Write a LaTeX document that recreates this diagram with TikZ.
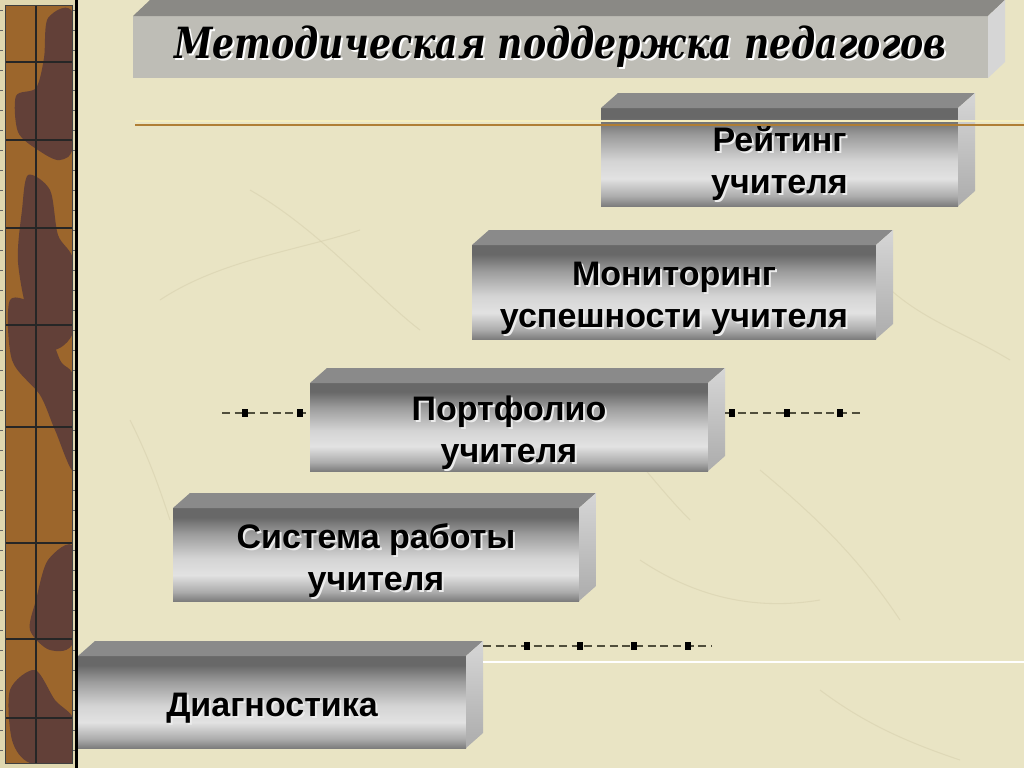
\documentclass[tikz,border=0pt]{standalone}
\usepackage{fontspec}
\setmainfont{Liberation Sans}
\newfontfamily\titlefont{DejaVu Serif}
\usetikzlibrary{calc}
\definecolor{parchment}{RGB}{233,228,196}
\definecolor{scratchCol}{RGB}{210,203,168}
\definecolor{stripBrown}{RGB}{156,102,44}
\definecolor{stripDark}{RGB}{98,64,56}
\definecolor{frameLight}{RGB}{224,216,176}
\definecolor{goldLine}{RGB}{176,126,52}
\definecolor{goldLight}{RGB}{246,238,190}
\definecolor{dashGray}{RGB}{80,78,60}
\definecolor{faceTop}{RGB}{138,138,138}
\definecolor{sideLight}{RGB}{214,214,214}
\definecolor{sideDark}{RGB}{172,172,172}
\definecolor{titleFace}{RGB}{190,189,182}
\definecolor{titleTop}{RGB}{138,137,133}
\definecolor{mA}{RGB}{125,125,125}
\definecolor{mB}{RGB}{172,172,172}
\definecolor{mC}{RGB}{226,226,226}
\definecolor{mD}{RGB}{212,212,212}
\definecolor{mE}{RGB}{156,156,156}
\definecolor{mF}{RGB}{104,104,104}
\pgfdeclareverticalshading{metal}{100bp}{color(0bp)=(mA); color(25bp)=(mA); color(30bp)=(mB); color(39bp)=(mC); color(48bp)=(mD); color(61bp)=(mE); color(70bp)=(mF); color(75bp)=(mF); color(100bp)=(mF)}

\begin{document}
\begin{tikzpicture}[x=0.75pt,y=-0.75pt,
  barface/.style={shading=metal,inner sep=0pt,outer sep=0pt},
  bartop/.style={fill=faceTop},
  barside/.style={top color=sideLight,bottom color=sideDark},
  bartxt/.style={font=\bfseries\fontsize{25.5}{31.5}\selectfont,align=center,text=black},
  bartxtsh/.style={bartxt,text=white!85!gray},
  titletxt/.style={font=\titlefont\bfseries\itshape\fontsize{31}{36}\selectfont,text=black},
  dotline/.style={dashGray,line width=1.4pt,dash pattern=on 6pt off 3.5pt},
  knot/.style={fill=black,minimum width=4.5pt,minimum height=6pt,inner sep=0pt},
  scratch/.style={scratchCol,line width=0.8pt,opacity=0.45}]
  \fill[parchment] (0,0) rectangle (1024,768);
  \useasboundingbox (0,0) rectangle (1024,768);
  % faint scratches
  \draw[scratch] (250,190) .. controls (320,230) and (380,300) .. (420,330);
  \draw[scratch] (160,300) .. controls (220,260) and (300,250) .. (360,230);
  \draw[scratch] (560,380) .. controls (610,420) and (650,480) .. (690,520);
  \draw[scratch] (760,470) .. controls (820,520) and (860,560) .. (900,620);
  \draw[scratch] (880,280) .. controls (920,320) and (960,330) .. (1010,360);
  \draw[scratch] (640,560) .. controls (700,600) and (760,610) .. (820,600);
  \draw[scratch] (820,690) .. controls (860,720) and (900,740) .. (960,760);
  \draw[scratch] (130,420) .. controls (150,460) and (160,490) .. (170,520);
  % left strip
  \fill[frameLight] (0,0) rectangle (76,768);
  \fill[stripBrown] (5,5) rectangle (72,763);
  \begin{scope}
    \clip (5,5) rectangle (72,763);
    \fill[stripDark] plot[smooth cycle] coordinates {(48,18) (74,16) (74,140) (60,160) (38,150) (18,132) (16,96) (36,88) (44,58)};
    \fill[stripDark] plot[smooth cycle] coordinates {(28,175) (50,190) (58,235) (74,262) (74,330) (52,350) (30,322) (18,262) (22,210)};
    \fill[stripDark] plot[smooth cycle] coordinates {(10,300) (40,310) (60,360) (74,380) (74,470) (55,430) (40,395) (12,360)};
    \fill[stripDark] plot[smooth cycle] coordinates {(48,560) (74,548) (74,640) (50,650) (30,630) (36,600)};
    \fill[stripDark] plot[smooth cycle] coordinates {(10,690) (35,670) (55,700) (74,720) (74,763) (30,763) (12,740)};
  \end{scope}
  \draw[black!85,line width=1pt] (36,5) -- (36,763);
  \foreach \yy in {62,140,228,325,427,543,639,718}{\draw[black!85,line width=1pt] (5,\yy) -- (72,\yy);}
  \foreach \yy in {10,30,...,750}{\draw[black!60] (0,\yy) -- (3,\yy); \draw[black!60] (73,\yy) -- (75,\yy);}
  \draw[black!75] (5,5) rectangle (72,763);
  \fill[black] (75,0) rectangle (78,768);
  % title bar
  \node[inner sep=0pt,outer sep=0pt,fill=titleFace,minimum width=855*0.75pt,minimum height=62*0.75pt] (title) at (560.5,47) {};
  \fill[titleTop] (title.north west) -- ++(17,-16) -- ([shift={(17,-16)}]title.north east) -- (title.north east) -- cycle;
  \fill[sideLight] (title.north east) -- ++(17,-16) -- ([shift={(17,-16)}]title.south east) -- (title.south east) -- cycle;
  \node[titletxt,text=white] at ([shift={(2,2)}]title.center) {\scalebox{0.84}[1.04]{Методическая поддержка педагогов}};
  \node[titletxt] at (title.center) {\scalebox{0.84}[1.04]{Методическая поддержка педагогов}};
  % steps
  \foreach \n/\cx/\cy/\w/\h/\txt in {
      rating/779.5/157/357/98/{Рейтинг\\учителя},
      monit/674/292/404/94/{Мониторинг\\успешности учителя},
      portf/509/427/398/88/{Портфолио\\учителя},
      sys/376/554.5/406/93/{Система работы\\учителя},
      diag/272/702/388/92/{Диагностика}}{
    \node[barface,minimum width=\w*0.75pt,minimum height=\h*0.75pt] (\n) at (\cx,\cy) {};
    \fill[bartop] (\n.north west) -- ++(17,-15) -- ([shift={(17,-15)}]\n.north east) -- (\n.north east) -- cycle;
    \shade[barside] (\n.north east) -- ++(17,-15) -- ([shift={(17,-15)}]\n.south east) -- (\n.south east) -- cycle;
    \node[bartxtsh] at ([shift={(2,8)}]\n.center) {\txt};
    \node[bartxt] at ([shift={(0,6)}]\n.center) {\txt};
  }
  % rules
  \draw[goldLight,line width=1pt] (135,121) -- (1024,121);
  \draw[goldLine,line width=1.6pt] (135,125) -- (1024,125);
  \coordinate (pe) at ($(portf.east)+(17,0)$);
  \coordinate (de) at ($(diag.east)+(17,0)$);
  \coordinate (wEnd) at (1024,662);
  \draw[white,line width=0.8pt] (de |- wEnd) -- (wEnd);
  % dotted links
  \coordinate (pl) at (222,413);
  \coordinate (pr) at (862,413);
  \coordinate (dr) at (712,646);
  \draw[dotline] (pl) -- (portf.west |- pl);
  \draw[dotline] (pe |- pr) -- (pr);
  \draw[dotline] (de |- dr) -- (dr);
  \foreach \xx in {245,300}{\node[knot] at (\xx,413) {};}
  \foreach \xx in {732,787,840}{\node[knot] at (\xx,413) {};}
  \foreach \xx in {527,580,634,688}{\node[knot] at (\xx,646) {};}
\end{tikzpicture}
\end{document}
